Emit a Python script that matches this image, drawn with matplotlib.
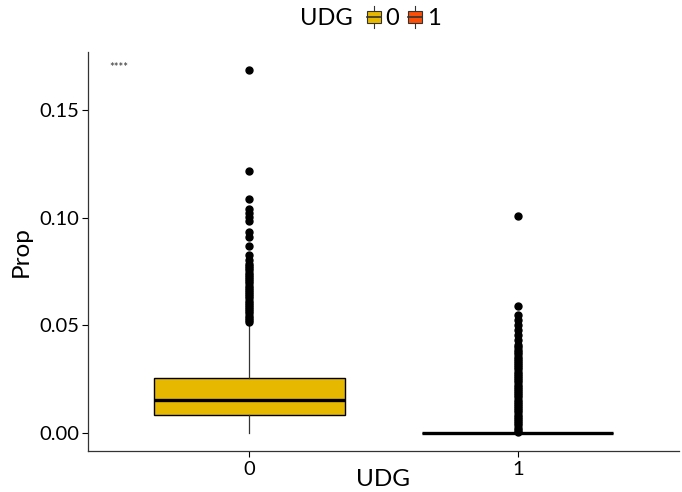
import matplotlib.pyplot as plt
from matplotlib.legend_handler import HandlerBase
from matplotlib.patches import Rectangle, Patch
from matplotlib.lines import Line2D

plt.rcParams["font.family"] = ["Lato", "DejaVu Sans"]

groups = ["0", "1"]
colors = ["#E7B800", "#FC4E07"]

q1 = [0.0085, 0.0]
med = [0.0155, 0.0]
q3 = [0.0255, 0.0]
whislo = [0.0, 0.0]
whishi = [0.051, 0.0]

out0 = [0.0515, 0.0525, 0.0535, 0.0545, 0.0555, 0.0565, 0.0575, 0.0585,
        0.0595, 0.0605, 0.0615, 0.0625, 0.0635, 0.0645, 0.0655, 0.0665,
        0.0675, 0.0685, 0.0695, 0.0705, 0.0715, 0.0725, 0.0735, 0.0745,
        0.0755, 0.0765, 0.0775, 0.0785, 0.0803, 0.0827, 0.0869, 0.0909,
        0.0935, 0.0986, 0.1005, 0.102, 0.1039, 0.1085, 0.1217, 0.1686]
out1 = [0.0005, 0.0015, 0.0025, 0.0035, 0.0045, 0.0055, 0.0065, 0.0075,
        0.0085, 0.0095, 0.0105, 0.0115, 0.0125, 0.0135, 0.0145, 0.0155,
        0.0165, 0.0175, 0.0185, 0.0195, 0.0205, 0.0215, 0.0225, 0.0235,
        0.0245, 0.0255, 0.0265, 0.0275, 0.0285, 0.0295, 0.0305, 0.0315,
        0.0325, 0.0335, 0.0345, 0.0355, 0.0365, 0.0375, 0.0385, 0.0398,
        0.0409, 0.0432, 0.0455, 0.0478, 0.0502, 0.0525, 0.0548, 0.059,
        0.1008]
outliers = [out0, out1]

stats = []
for i in range(len(groups)):
    stats.append(dict(label=groups[i], q1=q1[i], med=med[i], q3=q3[i],
                      whislo=whislo[i], whishi=whishi[i], fliers=outliers[i]))


class BoxKey(HandlerBase):
    def create_artists(self, legend, orig, xd, yd, w, h, fontsize, trans):
        bw = w * 0.8
        x0 = xd + (w - bw) / 2
        box = Rectangle((x0, yd + h * 0.15), bw, h * 0.7,
                        facecolor=orig.get_facecolor(), edgecolor="#333333",
                        lw=0.8, transform=trans)
        mid = Line2D([x0, x0 + bw], [yd + h * 0.5] * 2, color="#333333",
                     lw=1.2, transform=trans)
        wl = Line2D([xd + w / 2] * 2, [yd - h * 0.15, yd + h * 1.15],
                    color="#333333", lw=0.8, transform=trans)
        return [wl, box, mid]


fig = plt.figure(figsize=(6.82, 4.92), dpi=100)
ax = fig.add_axes([88 / 682, 41 / 492, 591 / 682, 399 / 492])

bp = ax.bxp(stats, positions=[0, 1], widths=0.71, patch_artist=True,
            showcaps=False,
            boxprops=dict(edgecolor="black", linewidth=1.0),
            medianprops=dict(color="black", linewidth=2.4),
            whiskerprops=dict(color="#333333", linewidth=0.9),
            flierprops=dict(marker="o", markerfacecolor="black",
                            markeredgecolor="black", markersize=5))
for patch, c in zip(bp["boxes"], colors):
    patch.set_facecolor(c)

ax.set_xlim(-0.6, 1.6)
ax.set_ylim(-0.0084, 0.177)
ax.set_yticks([0.0, 0.05, 0.10, 0.15])
ax.set_yticklabels(["0.00", "0.05", "0.10", "0.15"])
ax.set_xticks([0, 1])
ax.set_xticklabels(groups)
ax.tick_params(labelsize=14.5, colors="black", length=4, width=0.8, pad=2)
ax.tick_params(axis="x", pad=3)
for side in ["top", "right"]:
    ax.spines[side].set_visible(False)
for side in ["left", "bottom"]:
    ax.spines[side].set_color("#333333")
    ax.spines[side].set_linewidth(0.9)

ax.set_xlabel("UDG", fontsize=17.5, labelpad=-6)
ax.set_ylabel("Prop", fontsize=17.5, labelpad=6)

ax.text(-0.522, 0.170, "****", fontsize=8, color="#333333", va="center")

fig.text(0.517, 0.962, "UDG", fontsize=17, ha="right", va="center")
handles = [Patch(facecolor=c) for c in colors]
fig.legend(handles, groups, loc="center left", bbox_to_anchor=(0.535, 0.962),
           ncol=2, frameon=False, fontsize=17, handlelength=0.75,
           handleheight=0.7, handletextpad=0.12, columnspacing=0.3,
           borderpad=0, borderaxespad=0,
           handler_map={Patch: BoxKey()})

fig.savefig("out.png", dpi=100)
